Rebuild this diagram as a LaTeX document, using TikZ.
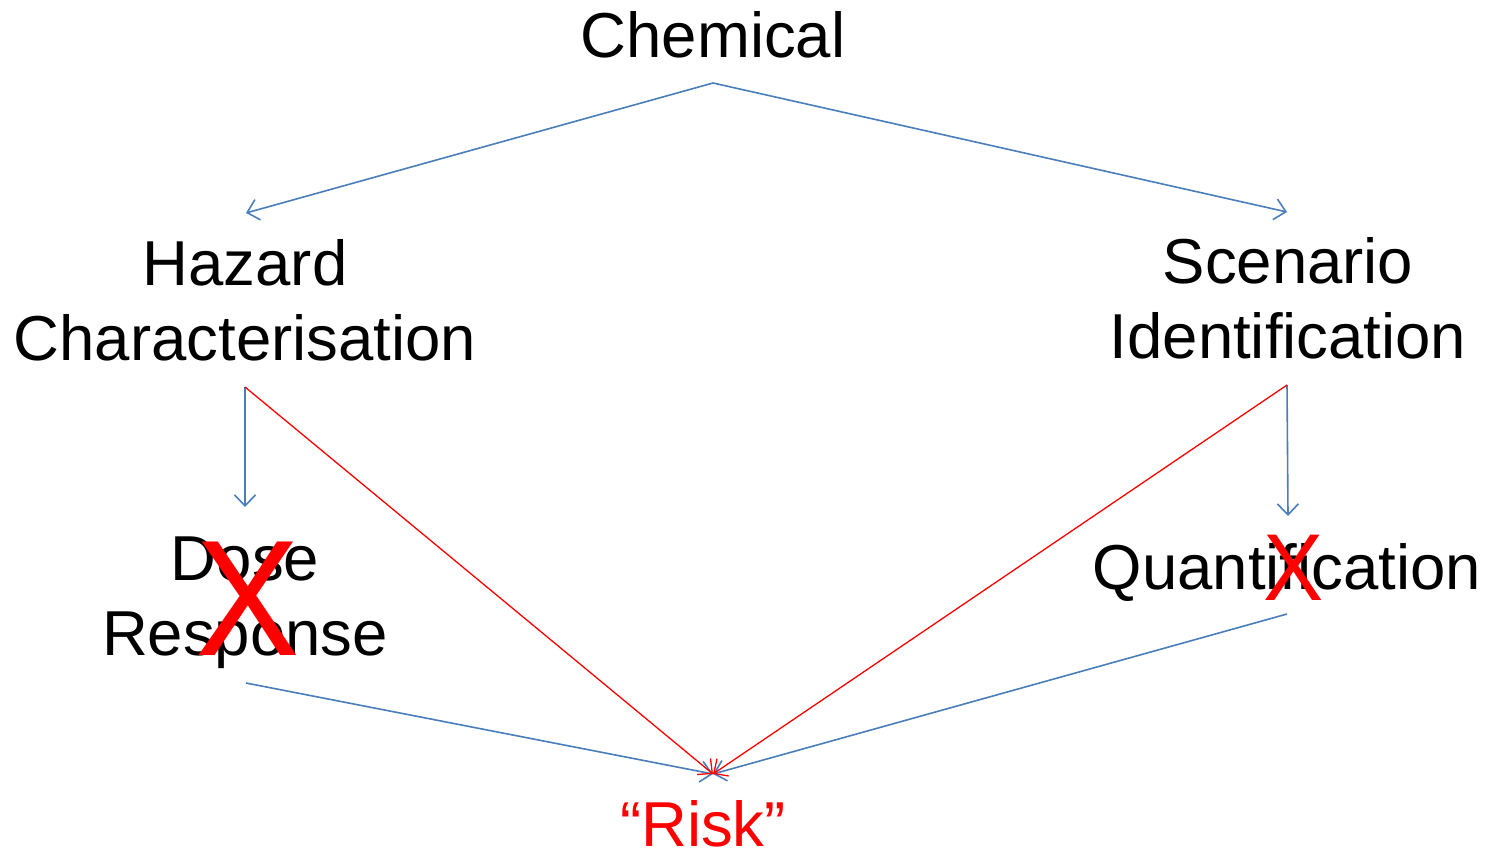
\documentclass[tikz,border=0pt]{standalone}
\usepackage{fontspec}
\setmainfont{Liberation Sans}
\usetikzlibrary{arrows.meta}
\definecolor{lineblue}{RGB}{74,126,187}
\definecolor{riskred}{RGB}{255,0,0}
\begin{document}
\begin{tikzpicture}[x=1pt,y=-1pt,
  lbl/.style={inner sep=0pt,anchor=base,font=\fontsize{63.5}{75}\selectfont},
  bluearrow/.style={draw=lineblue,line width=1.6pt,-{Straight Barb[length=11pt,width=21pt,line width=1.6pt]}},
  redarrow/.style={draw=riskred,line width=1.3pt,-{Straight Barb[length=11pt,width=21pt,line width=1.3pt]}},
  bigx/.style={inner sep=0pt,anchor=base,text=riskred}]
\useasboundingbox (0,0) rectangle (1490,852);
% texts
\node[lbl] (chem) at (713,57) {Chemical};
\node[lbl] (hazA) at (245,285) {Hazard};
\node[lbl] (hazB) at (245,360) {Characterisation};
\node[lbl] (scenA) at (1288,283) {Scenario};
\node[lbl] (scenB) at (1288,358) {Identification};
\node[lbl] (doseA) at (245,580) {Dose};
\node[lbl] (doseB) at (245,655) {Response};
\node[lbl] (quant) at (1287,589) {Quantification};
\node[lbl,text=riskred] (risk) at (703,846) {“Risk”};
\node[bigx,font=\fontsize{165}{165}\selectfont,xscale=0.95] (xdose) at (248,655) {X};
\node[bigx,font=\fontsize{95}{95}\selectfont,xscale=0.95] (xquant) at (1294,600) {X};
% connector end points
\coordinate (chemB) at (713,83);
\coordinate (hazT) at (246,213);
\coordinate (scenT) at (1287,212);
\coordinate (hazBot) at (245,387);
\coordinate (scenBot) at (1287,385);
\coordinate (doseT) at (245,507);
\coordinate (quantT) at (1288,516);
\coordinate (doseBot) at (246,683);
\coordinate (quantBot) at (1287,614);
\coordinate (riskT) at (713,774);
% connectors
\draw[bluearrow] (chemB) -- (hazT);
\draw[bluearrow] (chemB) -- (scenT);
\draw[bluearrow] (hazBot) -- (doseT);
\draw[bluearrow] (scenBot) -- (quantT);
\draw[bluearrow] (doseBot) -- (riskT);
\draw[bluearrow] (quantBot) -- (riskT);
\draw[redarrow] (hazBot) -- (riskT);
\draw[redarrow] (scenBot) -- (riskT);
\end{tikzpicture}
\end{document}
